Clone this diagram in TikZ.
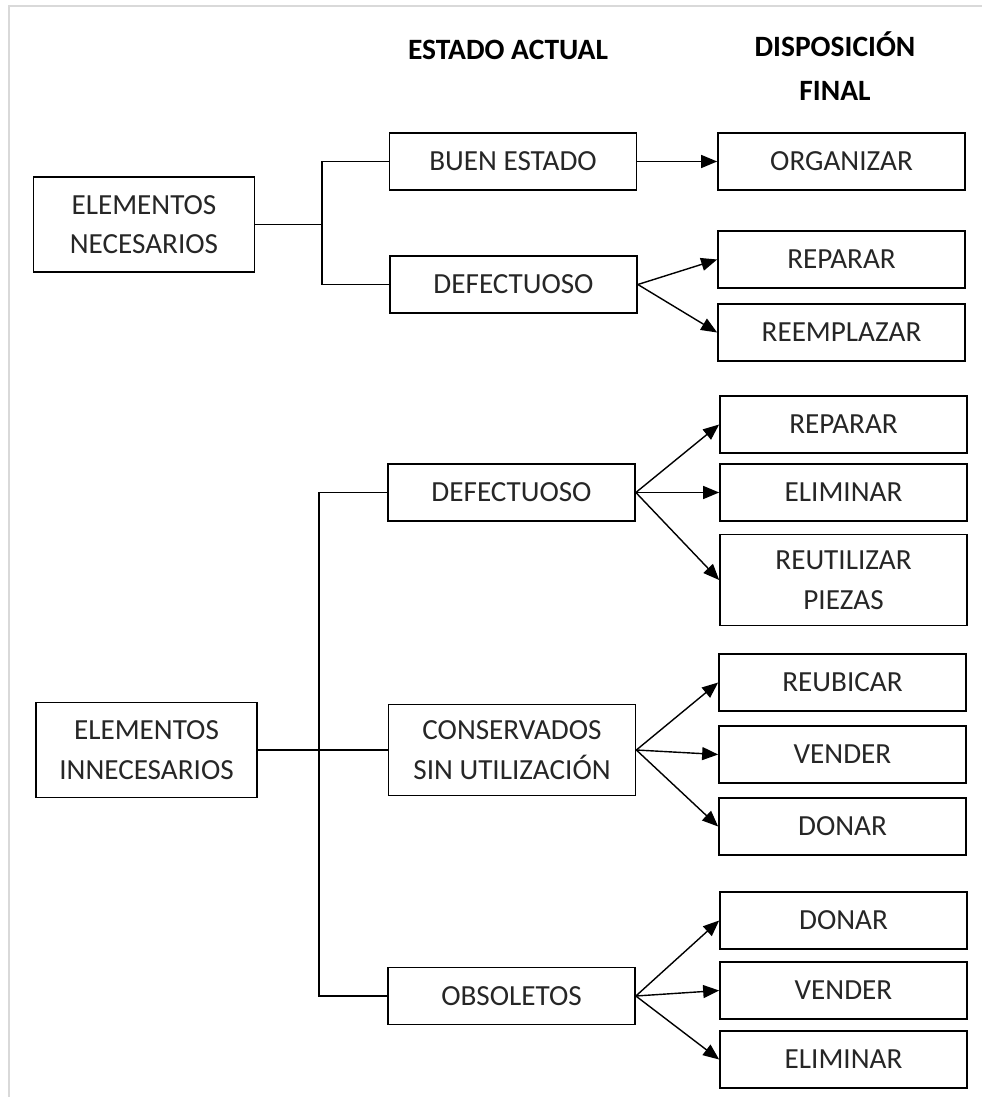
\documentclass[tikz,border=0pt]{standalone}
\usepackage{fontspec}
\setmainfont{Carlito}
\usepackage{tikz}
\usetikzlibrary{arrows.meta}

\begin{document}
\begin{tikzpicture}
  [x=0.02cm,y=-0.02cm,
   every node/.style={font=\fontsize{16.6}{22.5}\selectfont,text=black!85,align=center,inner sep=0pt},
   box/.style={draw,line width=1pt,minimum width=4.94cm,minimum height=1.14cm},
   bigbox/.style={box,minimum width=4.42cm,minimum height=1.9cm},
   tallbox/.style={box,minimum height=1.82cm},
   head/.style={font=\fontsize{16.8}{25}\selectfont\bfseries,text=black},
   link/.style={line width=0.8pt},
   arr/.style={link,-{Triangle[length=3.2mm,width=2.6mm]}}]
  \useasboundingbox (0,0) rectangle (982,1097);
  \draw[black!15,line width=1.2pt] (9,1097) -- (9,6) -- (982,6);

  \node[head] (hest) at (508,50) {ESTADO ACTUAL};
  \node[head] (hdis) at (835,66) {DISPOSICIÓN\\FINAL};

  % elementos necesarios
  \node[bigbox] (necs) at (144,224.5) {ELEMENTOS\\NECESARIOS};
  \node[box] (buen)  at (513,161.5) {BUEN ESTADO};
  \node[box] (def1)  at (513.5,284.5) {DEFECTUOSO};
  \node[box] (org)   at (841.5,161.5) {ORGANIZAR};
  \node[box] (rep1)  at (841.5,259.5) {REPARAR};
  \node[box] (reem)  at (841.5,332.5) {REEMPLAZAR};

  % elementos innecesarios
  \node[bigbox] (innec) at (146.5,750) {ELEMENTOS\\INNECESARIOS};
  \node[box] (def2)  at (511.5,492.5) {DEFECTUOSO};
  \node[tallbox] (cons) at (512,750) {CONSERVADOS\\SIN UTILIZACIÓN};
  \node[box] (obs)   at (511.5,996) {OBSOLETOS};
  \node[box] (rep2)  at (843.5,424.5) {REPARAR};
  \node[box] (elim1) at (843.5,492.5) {ELIMINAR};
  \node[tallbox] (reut) at (843.5,580) {REUTILIZAR\\PIEZAS};
  \node[box] (reub)  at (842.5,682.5) {REUBICAR};
  \node[box] (vend1) at (842.5,754.5) {VENDER};
  \node[box] (don1)  at (842.5,826.5) {DONAR};
  \node[box] (don2)  at (843.5,920.5) {DONAR};
  \node[box] (vend2) at (843.5,990.5) {VENDER};
  \node[box] (elim2) at (843.5,1059.5) {ELIMINAR};

  \coordinate (busn) at (322,224.5);
  \coordinate (busi) at (319,750);

  \draw[link] (necs.east) -- (busn);
  \draw[link] (buen.west) -| (busn);
  \draw[link] (def1.west) -| (busn);
  \draw[link] (innec.east) -- (cons.west);
  \draw[link] (def2.west) -| (busi);
  \draw[link] (obs.west) -| (busi);

  \foreach \from/\to in {buen/org,def1/rep1,def1/reem,def2/rep2,def2/elim1,def2/reut,
                         cons/reub,cons/vend1,cons/don1,obs/don2,obs/vend2,obs/elim2}
    \draw[arr] (\from.east) -- (\to.west);

\end{tikzpicture}
\end{document}
